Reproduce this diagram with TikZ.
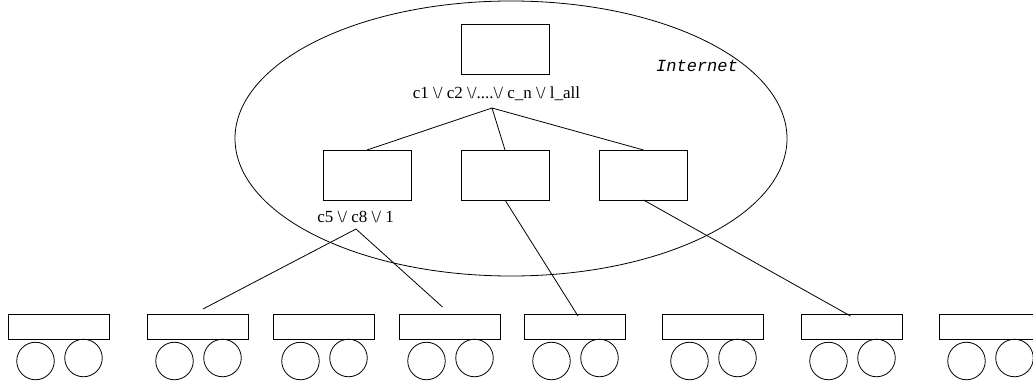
\documentclass[tikz,border=0pt]{standalone}
\usepackage{fontspec}
\setmainfont{Liberation Serif}
\setmonofont{Liberation Mono}
\usetikzlibrary{calc}
\newcommand{\orsym}{\textbackslash/}
\begin{document}
\begin{tikzpicture}[x=1pt,y=-1pt,
  line width=0.8pt,
  every node/.style={inner sep=0pt,outer sep=0pt},
  routerbox/.style={draw,minimum width=88pt,minimum height=50pt},
  cartbox/.style={draw,minimum width=101pt,minimum height=25pt},
  wheel/.style={draw,circle,minimum size=37.5pt},
  lbl/.style={font=\fontsize{17}{20}\selectfont,anchor=base},
  cloudlbl/.style={font=\fontsize{17}{20}\selectfont\ttfamily\itshape,anchor=base}]
  \useasboundingbox (0,0) rectangle (1033,385);

  % the Internet cloud
  \draw (511,138.5) ellipse [x radius=276, y radius=137.5];
  \node[cloudlbl] (inet) at (697,72) {Internet};

  % routers inside the cloud
  \node[routerbox] (top) at (505,49) {};
  \node[lbl] (toplbl) at (496.5,99) {c1 \orsym{} c2 \orsym....\orsym{} c\_n \orsym{} l\_all};
  \node[routerbox] (ml) at (367,175) {};
  \node[routerbox] (mm) at (505,175) {};
  \node[routerbox] (mr) at (643.5,175) {};
  \node[lbl] (mllbl) at (355.5,222) {c5 \orsym{} c8 \orsym{} 1};

  % bottom row of carts
  \foreach \i/\x in {1/8,2/147,3/273,4/399,5/524,6/662,7/801,8/939}{
    \node[cartbox,anchor=north west] (b\i) at (\x,314) {};
    \node[wheel] (w\i a) at (\x+27.5,361) {};
    \node[wheel] (w\i b) at (\x+75.5,358) {};
  }

  % connectors
  \coordinate (tapex) at (492,108);
  \coordinate (mapex) at (356,229);
  \draw (tapex) -- (ml.north);
  \draw (tapex) -- (mm.north);
  \draw (tapex) -- (mr.north);
  \coordinate (e2) at ($(b2.north)+(5.5,-5)$);
  \coordinate (e4) at ($(b4.north)+(-7,-7)$);
  \coordinate (e5) at ($(b5.north)+(3.5,2)$);
  \coordinate (e7) at ($(b7.north)+(-1,2)$);
  \draw (mapex) -- (e2);
  \draw (mapex) -- (e4);
  \draw (mm.south) -- (e5);
  \draw (mr.south) -- (e7);
\end{tikzpicture}
\end{document}
